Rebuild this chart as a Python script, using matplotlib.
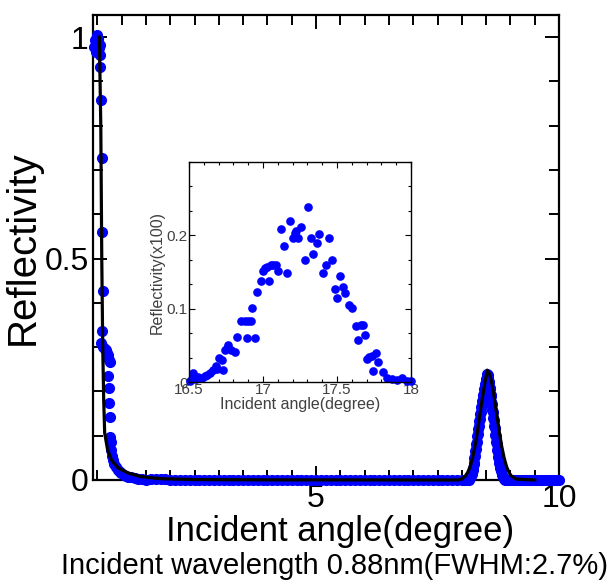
import matplotlib.pyplot as plt
from matplotlib.ticker import MultipleLocator

plt.rcParams['font.family'] = ['Liberation Sans', 'DejaVu Sans']

# measured reflectivity, main panel (angle in degree)
low_x = [0.42, 0.45, 0.47, 0.49, 0.51, 0.53, 0.56, 0.55, 0.56, 0.57, 0.59, 0.59,
         0.61, 0.60, 0.58, 0.62, 0.65, 0.68, 0.70, 0.72, 0.73, 0.75, 0.72, 0.74,
         0.74, 0.75, 0.75, 0.77, 0.79, 0.80, 0.82, 0.85, 0.89, 0.92, 0.96, 0.99,
         1.04, 1.09, 1.13, 1.20, 1.27, 1.34, 1.42, 1.50]
low_y = [0.977, 0.993, 0.966, 1.005, 0.995, 0.975, 0.982, 0.959, 0.932, 0.858, 0.727, 0.560,
         0.427, 0.337, 0.310, 0.301, 0.295, 0.293, 0.286, 0.282, 0.272, 0.267, 0.235, 0.208,
         0.174, 0.143, 0.098, 0.085, 0.068, 0.055, 0.045, 0.036, 0.030, 0.022, 0.017, 0.015,
         0.012, 0.009, 0.0075, 0.006, 0.004, 0.003, 0.002, 0.001]

flat_x = [1.6, 1.7, 1.8, 1.9, 2.0, 2.1, 2.2, 2.3, 2.4, 2.5,
          2.6, 2.7, 2.8, 2.9, 3.0, 3.1, 3.2, 3.3, 3.4, 3.5,
          3.6, 3.7, 3.8, 3.9, 4.0, 4.1, 4.2, 4.3, 4.4, 4.5,
          4.6, 4.7, 4.8, 4.9, 5.0, 5.1, 5.2, 5.3, 5.4, 5.5,
          5.6, 5.7, 5.8, 5.9, 6.0, 6.1, 6.2, 6.3, 6.4, 6.5,
          6.6, 6.7, 6.8, 6.9, 7.0, 7.1, 7.2, 7.3, 7.4, 7.5,
          7.6, 7.7, 7.8, 7.9, 8.0, 8.05, 8.10, 8.14]
flat_y = [0.002, 0.002, 0.002, 0.002, 0.001, 0.001, 0.001, 0.001, 0.001, 0.001,
          0.001, 0.001, 0.0005, 0.0005, 0.0005, 0.0005, 0.0005, 0.0005, 0.0005, 0.0,
          0.0, 0.0, 0.0, 0.0, 0.0, 0.0, 0.0, 0.0, 0.0, 0.0,
          0.0, 0.0, 0.0, 0.0, 0.0, 0.0, 0.0, 0.0, 0.0, 0.0,
          0.0, 0.0, 0.0, 0.0, 0.0, 0.0, 0.0, 0.0, 0.0, 0.0,
          0.0, 0.0, 0.0, 0.0, 0.0, 0.0, 0.0, 0.0, 0.0, 0.0,
          0.0, 0.0, 0.0, 0.0, 0.0, 0.0, 0.0, 0.001]

peak_x = [8.17, 8.19, 8.20, 8.21, 8.22, 8.23, 8.24, 8.25, 8.26, 8.27,
          8.28, 8.29, 8.30, 8.31, 8.32, 8.33, 8.34, 8.35, 8.36, 8.37,
          8.38, 8.39, 8.40, 8.41, 8.42, 8.43, 8.44, 8.45, 8.46, 8.47,
          8.48, 8.49, 8.50, 8.51, 8.52, 8.53, 8.54, 8.55, 8.56, 8.57,
          8.58, 8.59, 8.60, 8.61, 8.62, 8.63, 8.64, 8.65, 8.66, 8.67,
          8.68, 8.69, 8.70, 8.71, 8.72, 8.73, 8.74, 8.75, 8.76, 8.77,
          8.78, 8.79, 8.80, 8.82, 8.84, 8.86, 8.89]
peak_y = [0.004, 0.008, 0.013, 0.015, 0.022, 0.026, 0.035, 0.038, 0.049, 0.054,
          0.066, 0.070, 0.082, 0.086, 0.099, 0.104, 0.116, 0.121, 0.133, 0.137,
          0.149, 0.153, 0.164, 0.168, 0.179, 0.182, 0.192, 0.195, 0.205, 0.207,
          0.217, 0.219, 0.228, 0.231, 0.240, 0.236, 0.232, 0.222, 0.221, 0.208,
          0.206, 0.192, 0.190, 0.175, 0.172, 0.157, 0.154, 0.139, 0.135, 0.121,
          0.117, 0.102, 0.099, 0.085, 0.081, 0.068, 0.064, 0.052, 0.048, 0.038,
          0.032, 0.026, 0.020, 0.012, 0.007, 0.003, 0.001]

tail_x = [8.92, 8.95, 9.00, 9.05, 9.10, 9.15, 9.20, 9.25, 9.30, 9.35, 9.40, 9.45,
          9.50, 9.55, 9.60, 9.65, 9.70, 9.75, 9.80, 9.85, 9.90, 9.95, 10.0]
tail_y = [0.0, 0.0, 0.0, 0.0, 0.0, 0.0, 0.0, 0.0, 0.0, 0.0, 0.0, 0.0,
          0.0, 0.0, 0.0, 0.0, 0.0, 0.0, 0.0, 0.0, 0.0, 0.0, 0.0]

# simulated curve
model_x = [0.54, 0.57, 0.59, 0.61, 0.63, 0.65, 0.71, 0.79, 0.93, 1.13, 1.40, 1.80,
           2.50, 4.00, 7.50, 7.90, 8.00, 8.07, 8.12, 8.17, 8.22, 8.27, 8.32, 8.37,
           8.42, 8.47, 8.52, 8.57, 8.62, 8.67, 8.72, 8.77, 8.82, 8.87, 8.92, 8.97,
           9.02, 9.12, 9.50]
model_y = [1.0, 0.80, 0.50, 0.30, 0.18, 0.106, 0.068, 0.045, 0.027, 0.016, 0.0075, 0.003,
           0.001, 0.0003, 0.0, 0.0, 0.002, 0.009, 0.017, 0.030, 0.050, 0.076, 0.109, 0.147,
           0.184, 0.217, 0.248, 0.240, 0.217, 0.184, 0.147, 0.109, 0.076, 0.050, 0.030, 0.017,
           0.009, 0.002, 0.0]

# inset: Bragg peak (2theta)
inset_x = [16.507, 16.52, 16.53, 16.547, 16.563, 16.586, 16.608, 16.624, 16.642, 16.66,
           16.682, 16.69, 16.705, 16.72, 16.727, 16.743, 16.755, 16.766, 16.784, 16.811,
           16.827, 16.851, 16.878, 16.89, 16.901, 16.917, 16.928, 16.946, 16.962, 16.984,
           17.002, 17.015, 17.025, 17.043, 17.055, 17.065, 17.086, 17.104, 17.122, 17.142,
           17.164, 17.182, 17.205, 17.215, 17.221, 17.239, 17.257, 17.284, 17.306, 17.322,
           17.34, 17.363, 17.381, 17.408, 17.426, 17.448, 17.466, 17.484, 17.502, 17.52,
           17.543, 17.554, 17.581, 17.599, 17.626, 17.644, 17.66, 17.673, 17.691, 17.705,
           17.718, 17.734, 17.764, 17.779, 17.74, 17.809, 17.836, 17.869, 17.903, 17.937,
           17.971, 18.0]
inset_y = [0.001, 0.004, 0.012, 0.004, 0.007, 0.005, 0.008, 0.010, 0.012, 0.016,
           0.022, 0.018, 0.033, 0.030, 0.016, 0.043, 0.047, 0.050, 0.043, 0.041,
           0.062, 0.083, 0.083, 0.060, 0.083, 0.083, 0.101, 0.060, 0.123, 0.138,
           0.152, 0.155, 0.157, 0.138, 0.160, 0.160, 0.160, 0.152, 0.209, 0.186,
           0.149, 0.219, 0.197, 0.203, 0.206, 0.196, 0.211, 0.167, 0.238, 0.197,
           0.175, 0.190, 0.202, 0.149, 0.160, 0.197, 0.167, 0.127, 0.115, 0.145,
           0.129, 0.122, 0.105, 0.101, 0.076, 0.057, 0.078, 0.078, 0.064, 0.032,
           0.034, 0.036, 0.039, 0.027, 0.015, 0.013, 0.005, 0.004, 0.003, 0.006,
           0.002, 0.001]

main_yticks = [0, 0.5, 1]
main_yticklabels = ['0', '0.5', '1']
main_xticks = [5, 10]
main_xticklabels = ['5', '10']
inset_xticks = [16.5, 17, 17.5, 18]
inset_xticklabels = ['16.5', '17', '17.5', '18']
inset_yticks = [0, 0.1, 0.2]
inset_yticklabels = ['0', '0.1', '0.2']

fig = plt.figure(figsize=(6.14, 5.86), dpi=100)
ax = fig.add_axes([0.1515, 0.1809, 0.759, 0.7935])

meas_x = low_x + flat_x + peak_x + tail_x
meas_y = low_y + flat_y + peak_y + tail_y
ax.plot(meas_x, meas_y, 'o', color='blue', ms=7, ls='none', clip_on=False, zorder=3)
ax.plot(model_x, model_y, color='black', lw=2.3, clip_on=False, zorder=4)

ax.set_xlim(0.41, 10)
ax.set_ylim(0, 1.05)
ax.set_xticks(main_xticks)
ax.set_xticklabels(main_xticklabels)
ax.set_yticks(main_yticks)
ax.set_yticklabels(main_yticklabels)
ax.xaxis.set_minor_locator(MultipleLocator(0.5))
ax.yaxis.set_minor_locator(MultipleLocator(0.1))
ax.tick_params(which='both', direction='in', top=True, right=True, width=1.4, labelsize=23)
ax.tick_params(which='major', length=10)
ax.tick_params(which='minor', length=7)
ax.tick_params(axis='x', pad=3)
ax.tick_params(axis='y', pad=3)
for s in ax.spines.values():
    s.set_linewidth(1.6)

ax.set_xlabel('Incident angle(degree)', fontsize=25, labelpad=-2)
ax.xaxis.set_label_coords(0.53, -0.075)
ax.set_ylabel('Reflectivity', fontsize=29, labelpad=2)
fig.text(0.545, 0.034, 'Incident wavelength 0.88nm(FWHM:2.7%)', fontsize=21, ha='center', va='center')

# inset
gray = '#404040'
axin = fig.add_axes([0.3078, 0.3481, 0.3616, 0.3754])
axin.plot(inset_x, inset_y, 'o', color='blue', ms=5.2, ls='none', clip_on=False)
axin.set_xlim(16.5, 18)
axin.set_ylim(0, 0.3)
axin.set_xticks(inset_xticks)
axin.set_xticklabels(inset_xticklabels)
axin.set_yticks(inset_yticks)
axin.set_yticklabels(inset_yticklabels)
axin.xaxis.set_minor_locator(MultipleLocator(0.1))
axin.yaxis.set_minor_locator(MultipleLocator(0.1 / 3))
axin.tick_params(which='both', direction='in', top=True, right=True, width=0.8,
                 labelsize=11, labelcolor=gray, pad=1)
axin.tick_params(which='major', length=4)
axin.tick_params(which='minor', length=2.5)
for s in axin.spines.values():
    s.set_linewidth(1.0)
axin.set_xlabel('Incident angle(degree)', fontsize=11.5, color=gray, labelpad=0)
axin.set_ylabel('Reflectivity(x100)', fontsize=11.5, color=gray, labelpad=1)

fig.savefig('out.png', dpi=100)
